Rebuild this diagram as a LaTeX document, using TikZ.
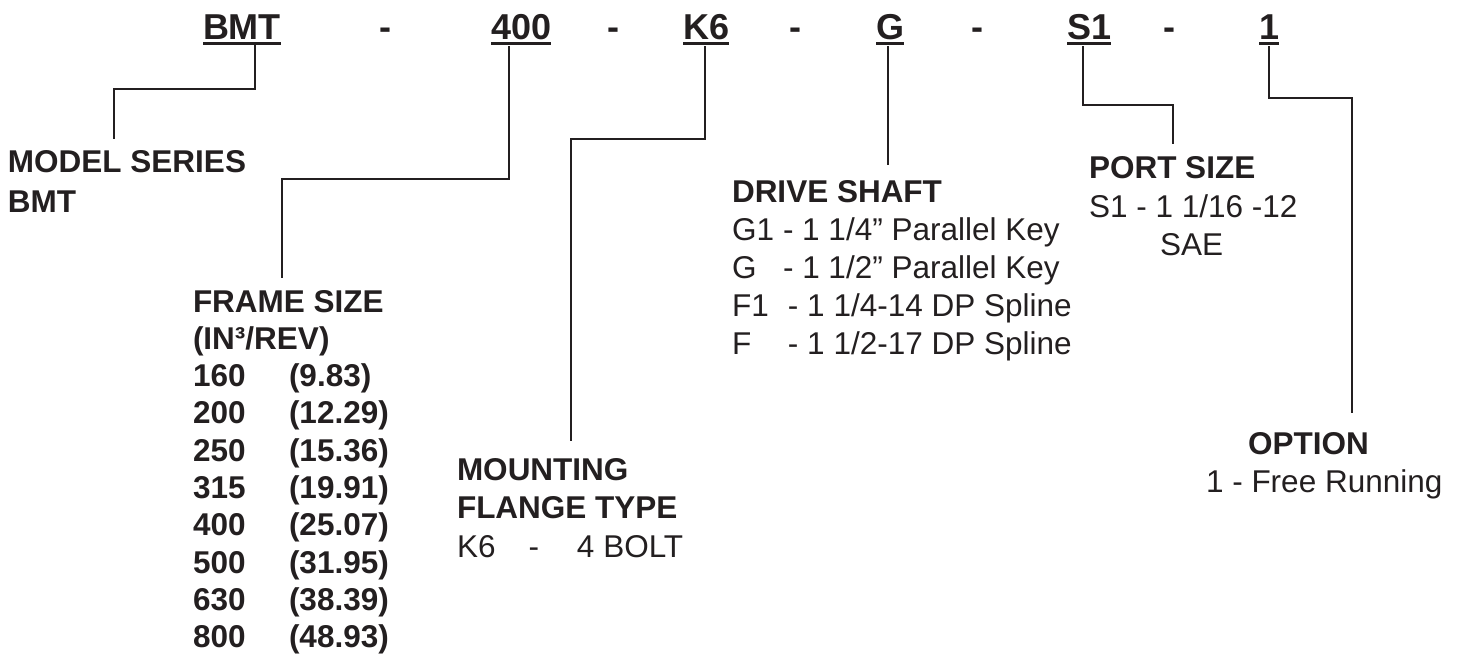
\documentclass[tikz,border=0pt]{standalone}
\usepackage{fontspec}
\setmainfont{Liberation Sans}
\definecolor{ink}{RGB}{35,31,32}
\begin{document}
\begin{tikzpicture}[x=1pt,y=-1pt,
  every node/.style={inner sep=0pt, outer sep=0pt, anchor=base west, text=ink},
  code/.style={font=\fontsize{36pt}{40pt}\selectfont\bfseries},
  head/.style={font=\fontsize{31.5pt}{38pt}\selectfont\bfseries},
  body/.style={font=\fontsize{31.5pt}{38pt}\selectfont},
  lead/.style={draw=ink, line width=2.3pt},
  uline/.style={draw=ink, line width=3pt}]
\useasboundingbox (0,0) rectangle (1461,665);

% model code row
\node[code] (bmt) at (203,39) {BMT~};
\node[code,anchor=base] (d1) at (385,39) {-};
\node[code] (n400) at (491,39) {400};
\node[code,anchor=base] (d2) at (613.5,39) {-};
\node[code] (k6) at (683,39) {K6};
\node[code,anchor=base] (d3) at (795,39) {-};
\node[code] (g) at (876,39) {G};
\node[code,anchor=base] (d4) at (977,39) {-};
\node[code] (s1) at (1067,39) {S1};
\node[code,anchor=base] (d5) at (1169,39) {-};
\node[code] (o1) at (1259,39) {1};

\foreach \c in {bmt,n400,k6,g,s1,o1}
  \draw[uline] ([yshift=-4pt]\c.base west) -- ([yshift=-4pt]\c.base east);

% model series
\node[head] (ms1) at (8,172) {MODEL SERIES};
\node[head] (ms2) at (8,212) {BMT};

% frame size
\node[head] (fs1) at (193,312) {FRAME SIZE};
\node[head] (fs2) at (193,349.3) {(IN³/REV)};
\foreach \n/\v [count=\i] in {160/9.83,200/12.29,250/15.36,315/19.91,400/25.07,500/31.95,630/38.39,800/48.93}{
  \node[head] (fr\i) at (193,{312+37.33*(\i+1)}) {\n};
  \node[head] (fv\i) at (289,{312+37.33*(\i+1)}) {(\v)};
}

% mounting flange
\node[head] (mf1) at (457,480) {MOUNTING};
\node[head] (mf2) at (457,518.5) {FLANGE TYPE};
\node[body] (mf3) at (457,557) {K6\hspace*{33pt}-\hspace*{38pt}4 BOLT};

% drive shaft
\node[head] (ds1) at (732,202) {DRIVE SHAFT};
\node[body] (ds2) at (732,240) {\makebox[51pt][l]{G1}- 1 1/4” Parallel Key};
\node[body] (ds3) at (732,278) {\makebox[51pt][l]{G}- 1 1/2” Parallel Key};
\node[body] (ds4) at (732,316) {\makebox[56pt][l]{F1}- 1 1/4-14 DP Spline};
\node[body] (ds5) at (732,354) {\makebox[56pt][l]{F}- 1 1/2-17 DP Spline};

% port size
\node[head] (ps1) at (1089,178) {PORT SIZE};
\node[body] (ps2) at (1089,217) {S1 - 1 1/16 -12};
\node[body] (ps3) at (1160,255) {SAE};

% option
\node[head] (op1) at (1248,454) {OPTION};
\node[body] (op2) at (1206,492) {1 - Free Running};

% leaders
\draw[lead] ([xshift=52pt,yshift=-6pt]bmt.base west) -- ++(0,44) -| ([xshift=106pt,yshift=33pt]ms1.base west);
\draw[lead] ([xshift=18pt,yshift=-7pt]n400.base west) -- ++(0,133) -| ([xshift=89pt,yshift=34pt]fs1.base west);
\draw[lead] ([xshift=22pt,yshift=-7pt]k6.base west) -- ++(0,93) -| ([xshift=114pt,yshift=39pt]mf1.base west);
\draw[lead] ([xshift=12pt,yshift=-7pt]g.base west) -- ([xshift=156pt,yshift=37pt]ds1.base west);
\draw[lead] ([xshift=16pt,yshift=-7pt]s1.base west) -- ++(0,59) -| ([xshift=84pt,yshift=34pt]ps1.base west);
\draw[lead] ([xshift=10pt,yshift=-7pt]o1.base west) -- ++(0,52) -| ([xshift=104pt,yshift=41pt]op1.base west);
\end{tikzpicture}
\end{document}
